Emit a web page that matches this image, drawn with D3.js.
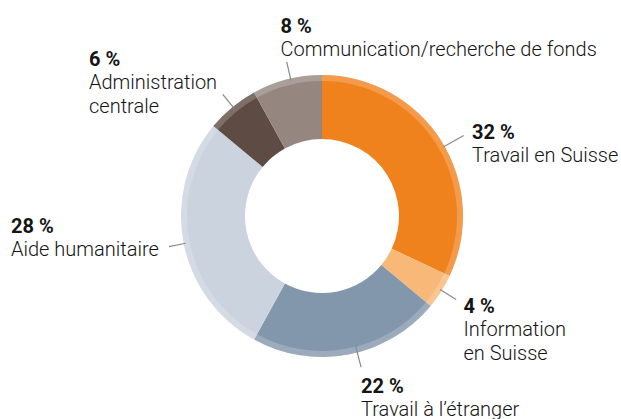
<!DOCTYPE html>
<html><head><meta charset="utf-8">
<script src="https://cdn.jsdelivr.net/npm/d3@7"></script>
<style>
html,body{margin:0;padding:0;background:#fff;}
svg{display:block;}
text{font-family:Roboto, "Noto Sans", sans-serif;fill:#151515;}
.pct{font-weight:700;}
.lab{font-weight:300;}
</style></head>
<body><svg id="c" width="621" height="419"></svg>
<script>
// Data
const categories = ["Travail en Suisse", "Information\nen Suisse", "Travail à l’étranger", "Aide humanitaire", "Administration\ncentrale", "Communication/recherche de fonds"];
const values = [32, 4, 22, 28, 6, 8];
const pctLabels = ["32 %", "4 %", "22 %", "28 %", "6 %", "8 %"];

// Styles / layout
const colors = ["#F0821E", "#F8B878", "#8297AB", "#CBD3DE", "#5E4B43", "#958680"];
const cx = 322, cy = 216, rOuter = 141, rInner = 77, bandW = 6;
// label anchors: [x, y of pct baseline]
const labelPos = [[472,138.5],[463.5,312.7],[361,392.5],[11,232.7],[89,65.7],[280.5,32.7]];
const lineSpan = [[140,163],[139,158],[134,156],[139,156],[139,157],[139,158]];
const lineAngleOffset = [2.8, -0.5, -3.7, -0.5, 0.4, 1.5];
const lineHeight = 23.7;
const fontSize = "20px";

const svg = d3.select("#c");
const g = svg.append("g").attr("transform", `translate(${cx},${cy})`);
const pie = d3.pie().sort(null).value(d => d)(values);
const arc = d3.arc().innerRadius(rInner).outerRadius(rOuter);
const band = d3.arc().innerRadius(rOuter - bandW).outerRadius(rOuter);

g.selectAll("path.s").data(pie).join("path").attr("class","s")
  .attr("d", arc).attr("fill", (d,i) => colors[i]);
g.selectAll("path.b").data(pie).join("path").attr("class","b")
  .attr("d", band).attr("fill", "#fff").attr("fill-opacity", 0.2);

// leader lines
g.selectAll("line.l").data(pie).join("line").attr("class","l")
  .each(function(d,i){
    const a = (d.startAngle + d.endAngle)/2 + lineAngleOffset[i]*Math.PI/180;
    const [r0, r1] = lineSpan[i];
    d3.select(this)
      .attr("x1", Math.sin(a)*r0).attr("y1", -Math.cos(a)*r0)
      .attr("x2", Math.sin(a)*r1).attr("y2", -Math.cos(a)*r1);
  })
  .attr("stroke", "#8a8a8a").attr("stroke-width", 1.2);

// labels
categories.forEach((c, i) => {
  const [x, y] = labelPos[i];
  const t = svg.append("text").attr("x", x).attr("y", y);
  t.append("tspan").attr("class","pct").attr("x", x).attr("y", y)
    .style("font-size", fontSize).text(pctLabels[i]);
  c.split("\n").forEach((line, k) => {
    t.append("tspan").attr("class","lab").attr("x", x).attr("y", y + lineHeight*(k+1))
      .style("font-size", fontSize).text(line);
  });
});
</script></body></html>
